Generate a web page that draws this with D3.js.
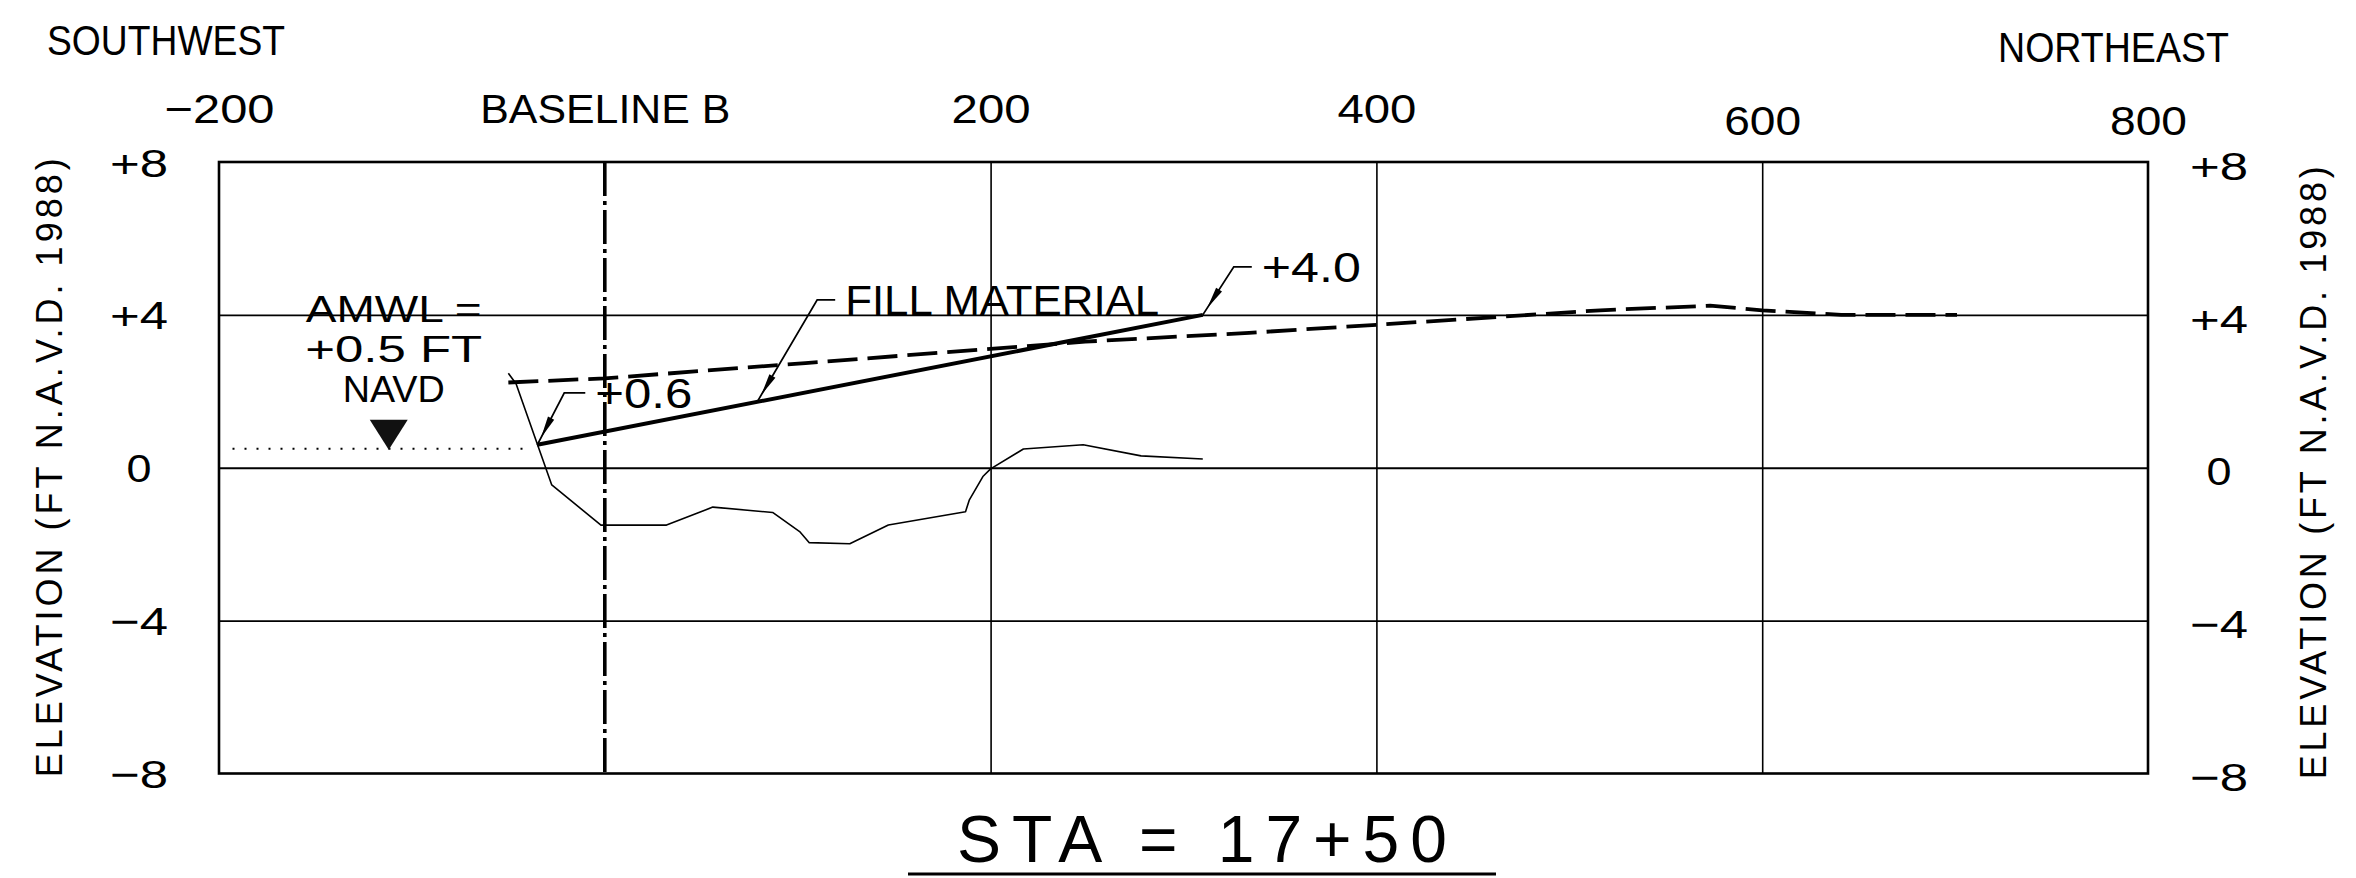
<!DOCTYPE html>
<html>
<head>
<meta charset="utf-8">
<script src="https://cdn.jsdelivr.net/npm/d3@7"></script>
<style>
  html, body { margin: 0; padding: 0; background: #fff; }
  svg { display: block; }
</style>
</head>
<body>
<svg id="chart" width="2356" height="878"></svg>
<script>
// Beach cross-section at STA 17+50: offset from Baseline B (ft) vs elevation (ft NAVD 1988)

// Axis ticks and labels
const stationTicks = [-200, 0, 200, 400, 600, 800];
const stationTickLabels = ["\u2212200", "BASELINE B", "200", "400", "600", "800"];
const elevationTicks = [-8, -4, 0, 4, 8];
const elevationTickLabels = ["\u22128", "\u22124", "0", "+4", "+8"];
const gridStations = [200, 400, 600];
const gridElevations = [-4, 0, 4];

// Existing ground profile (thin line)
const existingStation = [-50, -46, -35, -27.5, -2, 32, 56, 87, 101, 106, 127, 147, 187, 189, 196, 200, 217, 248, 278, 310];
const existingElev = [2.47, 2.2, 0.62, -0.45, -1.5, -1.5, -1.03, -1.17, -1.67, -1.96, -1.99, -1.5, -1.15, -0.84, -0.23, -0.03, 0.49, 0.6, 0.31, 0.23];

// Upland profile (dashed line)
const dashedStation = [-50, 0, 104, 249, 334, 400, 516, 573, 600, 641, 701];
const dashedElev = [2.23, 2.34, 2.74, 3.30, 3.53, 3.74, 4.12, 4.24, 4.12, 4.0, 4.0];

// Fill material design slope (toe and crest)
const fillStation = [-35, 310];
const fillElev = [0.6, 4.0];
const fillLabelStation = 79;

// Average mean water level
const amwlStation = [-193, -41];
const amwlElev = 0.5;
const amwlMarkerStation = -112;

const sectionTitle = "STA = 17+50";
const sideLabels = ["SOUTHWEST", "NORTHEAST"];
const elevationTitle = "ELEVATION (FT N.A.V.D. 1988)";

// ---------------------------------------------------------------
const FONT = "'Liberation Sans', Arial, 'DejaVu Sans', sans-serif";
const svg = d3.select("#chart");

const x = d3.scaleLinear().domain([-200, 800]).range([219, 2148]);
const y = d3.scaleLinear().domain([-8, 8]).range([773.5, 162]);
const plotW = x(800) - x(-200);
const plotH = y(-8) - y(8);

// CAD-style lettering: glyphs are fitted to a set run length
function addText(parent, str, px, py, size, len, anchor, adjust) {
  const t = parent.append("text")
    .attr("x", px).attr("y", py)
    .attr("font-family", FONT)
    .attr("font-size", size)
    .attr("fill", "#000")
    .attr("text-anchor", anchor || "start")
    .text(str);
  if (len) t.attr("textLength", len).attr("lengthAdjust", adjust || "spacingAndGlyphs");
  return t;
}

// Grid
svg.append("g")
  .attr("transform", `translate(0,${y(-8)})`)
  .call(d3.axisBottom(x).tickValues(gridStations).tickSize(-plotH).tickFormat(""))
  .call(g => g.select(".domain").remove())
  .selectAll("line").attr("stroke", "#000").attr("stroke-width", 1.6);

svg.append("g")
  .attr("transform", `translate(${x(-200)},0)`)
  .call(d3.axisLeft(y).tickValues(gridElevations).tickSize(-plotW).tickFormat(""))
  .call(g => g.select(".domain").remove())
  .selectAll("line").attr("stroke", "#000").attr("stroke-width", 1.8);

// Frame
svg.append("rect")
  .attr("x", x(-200)).attr("y", y(8))
  .attr("width", plotW).attr("height", plotH)
  .attr("fill", "none").attr("stroke", "#000").attr("stroke-width", 2.6);

// Baseline B center line
svg.append("line")
  .attr("x1", x(0)).attr("x2", x(0))
  .attr("y1", y(8)).attr("y2", y(-8))
  .attr("stroke", "#000").attr("stroke-width", 3.6)
  .attr("stroke-dasharray", "34 5 4 5");

// Top station labels
const topWidths = [110, 250, 79, 79, 77, 77];
const topAxis = svg.append("g")
  .attr("transform", "translate(0,123)")
  .call(d3.axisTop(x).tickValues(stationTicks)
    .tickFormat((d, i) => stationTickLabels[i]).tickSize(0).tickPadding(0));
topAxis.select(".domain").remove();
topAxis.selectAll("text")
  .attr("y", d => d >= 600 ? 12 : 0).attr("dy", 0)
  .attr("fill", "#000")
  .attr("font-family", FONT).attr("font-size", 41)
  .attr("text-anchor", "middle")
  .attr("textLength", (d, i) => topWidths[i]).attr("lengthAdjust", "spacingAndGlyphs");

// Elevation labels, both sides
function styleElevLabels(g, dy) {
  g.select(".domain").remove();
  g.selectAll("text")
    .attr("x", 0).attr("dy", dy)
    .attr("fill", "#000")
    .attr("font-family", FONT).attr("font-size", 39)
    .attr("text-anchor", "middle")
    .attr("textLength", d => d === 0 ? 25 : 58)
    .attr("lengthAdjust", "spacingAndGlyphs");
}
svg.append("g")
  .attr("transform", "translate(139,0)")
  .call(d3.axisLeft(y).tickValues(elevationTicks)
    .tickFormat((d, i) => elevationTickLabels[i]).tickSize(0).tickPadding(0))
  .call(g => styleElevLabels(g, "0.36em"));
svg.append("g")
  .attr("transform", "translate(2219,0)")
  .call(d3.axisRight(y).tickValues(elevationTicks)
    .tickFormat((d, i) => elevationTickLabels[i]).tickSize(0).tickPadding(0))
  .call(g => styleElevLabels(g, "0.44em"));

// Vertical axis titles
addText(svg, elevationTitle, 0, 0, 36, 619, "middle", "spacing")
  .attr("transform", `translate(62,${y(0)}) rotate(-90)`);
addText(svg, elevationTitle, 0, 0, 36, 613, "middle", "spacing")
  .attr("transform", `translate(2326,${y(0) + 5}) rotate(-90)`);

// Direction labels
addText(svg, sideLabels[0], 47, 55, 42, 238);
addText(svg, sideLabels[1], 1998, 62, 42, 231);

// Profiles
const line = d3.line().x(d => x(d[0])).y(d => y(d[1]));

svg.append("path")
  .datum(existingStation.map((s, i) => [s, existingElev[i]]))
  .attr("d", line)
  .attr("fill", "none").attr("stroke", "#000").attr("stroke-width", 1.6)
  .attr("stroke-linejoin", "round");

svg.append("path")
  .datum(dashedStation.map((s, i) => [s, dashedElev[i]]))
  .attr("d", line)
  .attr("fill", "none").attr("stroke", "#000").attr("stroke-width", 3.8)
  .attr("stroke-dasharray", "30 10");

svg.append("path")
  .datum(fillStation.map((s, i) => [s, fillElev[i]]))
  .attr("d", line)
  .attr("fill", "none").attr("stroke", "#000").attr("stroke-width", 4);

// Water level
svg.append("path")
  .datum(amwlStation.map(s => [s, amwlElev]))
  .attr("d", line)
  .attr("fill", "none").attr("stroke", "#000").attr("stroke-width", 2)
  .attr("stroke-dasharray", "2 10");

const mx = x(amwlMarkerStation), my = y(amwlElev) + 1;
svg.append("path")
  .attr("d", `M${mx - 19},${my - 30}L${mx + 19},${my - 30}L${mx},${my}Z`)
  .attr("fill", "#111");

const fmt = d3.format(".1f");
const sign = v => (v >= 0 ? "+" : "\u2212") + fmt(Math.abs(v));
const amwlX = mx + 5;
addText(svg, "AMWL  =", amwlX, 321.7, 36, 176, "middle");
addText(svg, sign(amwlElev) + " FT", amwlX, 361.7, 36, 177, "middle");
addText(svg, "NAVD", amwlX, 401.7, 36, 102, "middle");

// Leader callouts
function leader(s, e, dx, dy, run, str, len) {
  const px = x(s), py = y(e);
  const kx = px + dx, ky = py + dy;
  svg.append("path")
    .attr("d", `M${px},${py}L${kx},${ky}L${kx + run},${ky}`)
    .attr("fill", "none").attr("stroke", "#000").attr("stroke-width", 1.8);
  const L = Math.hypot(dx, dy), ux = dx / L, uy = dy / L;
  const tip = [px + ux * 8, py + uy * 8];
  const base = [px + ux * 30, py + uy * 30];
  svg.append("path")
    .attr("d", `M${tip[0]},${tip[1]}L${base[0] - uy * 3.5},${base[1] + ux * 3.5}L${base[0] + uy * 3.5},${base[1] - ux * 3.5}Z`)
    .attr("fill", "#000");
  addText(svg, str, kx + run + 10, ky + 15, 43, len);
}
const fillAt = d3.scaleLinear().domain(fillStation).range(fillElev);
leader(fillStation[0], fillElev[0], 27, -52, 21, sign(fillElev[0]), 97);
leader(fillStation[1], fillElev[1], 31, -48, 18, sign(fillElev[1]), 99);
leader(fillLabelStation, fillAt(fillLabelStation), 60, -102, 18, "FILL MATERIAL", 314);

// Section title
addText(svg, sectionTitle, 957, 862, 66, 490, "start", "spacing");
svg.append("line")
  .attr("x1", 908).attr("x2", 1496).attr("y1", 874).attr("y2", 874)
  .attr("stroke", "#000").attr("stroke-width", 3);
</script>
</body>
</html>
